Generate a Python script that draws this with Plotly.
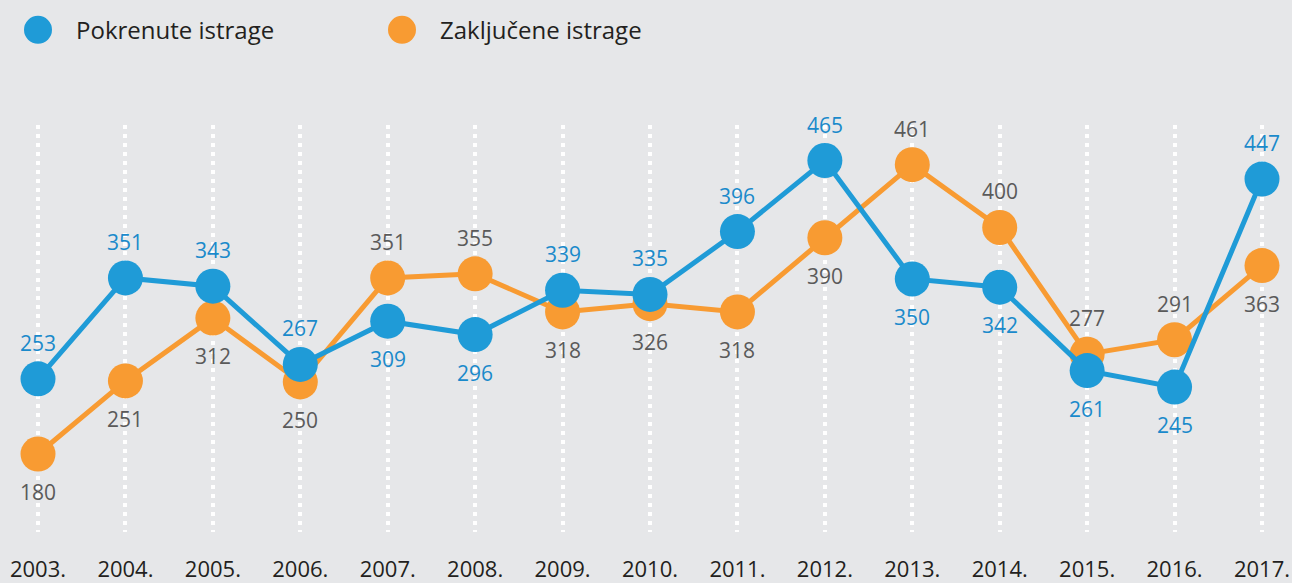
import plotly.graph_objects as go

years = [2003, 2004, 2005, 2006, 2007, 2008, 2009, 2010, 2011, 2012, 2013, 2014, 2015, 2016, 2017]
year_labels = [f"{y}." for y in years]
pokrenute = [253, 351, 343, 267, 309, 296, 339, 335, 396, 465, 350, 342, 261, 245, 447]
zakljucene = [180, 251, 312, 250, 351, 355, 318, 326, 318, 390, 461, 400, 277, 291, 363]
# label side for each point: 1 = above marker, -1 = below marker
pok_side = [1, 1, 1, 1, -1, -1, 1, 1, 1, 1, -1, -1, -1, -1, 1]
zak_side = [-1, -1, -1, -1, 1, 1, -1, -1, -1, -1, 1, 1, 1, 1, -1]

BLUE = "#1F9BD7"
BLUE_TXT = "#1A8ACB"
ORANGE = "#F89B32"
GREY_TXT = "#5A5A5A"
BG = "#E6E7E9"
FONT = "Open Sans"

W, H = 1292, 583
T, B = 125, 43

fig = go.Figure()
fig.add_trace(go.Scatter(
    x=years, y=zakljucene, name="Zaključene istrage", mode="lines+markers",
    line=dict(color=ORANGE, width=5), marker=dict(color=ORANGE, size=35),
    cliponaxis=False, showlegend=False, hoverinfo="x+y"))
fig.add_trace(go.Scatter(
    x=years, y=pokrenute, name="Pokrenute istrage", mode="lines+markers",
    line=dict(color=BLUE, width=5), marker=dict(color=BLUE, size=35),
    cliponaxis=False, showlegend=False, hoverinfo="x+y"))

# value labels
for series, sides, col in [(zakljucene, zak_side, GREY_TXT), (pokrenute, pok_side, BLUE_TXT)]:
    for x, v, s in zip(years, series, sides):
        fig.add_annotation(x=x, y=v, xref="x", yref="y", text=str(v), showarrow=False,
                           xanchor="center", yanchor="middle",
                           yshift=36 if s > 0 else -38,
                           font=dict(family=FONT, size=21, color=col))

# custom legend (pixel-sized circles + text)
def py(ypx):
    return (H - B - ypx) / (H - T - B)

legend_items = [("Pokrenute istrage", BLUE, 38, 74), ("Zaključene istrage", ORANGE, 402, 438)]
for label, col, cx, tx in legend_items:
    fig.add_shape(type="circle", xref="paper", yref="paper",
                  xsizemode="pixel", ysizemode="pixel",
                  xanchor=cx / W, yanchor=py(28),
                  x0=-14, x1=14, y0=-14, y1=14,
                  fillcolor=col, line=dict(width=0))
    fig.add_annotation(text=label, xref="paper", yref="paper",
                       x=tx / W, y=py(28), xanchor="left", yanchor="middle",
                       showarrow=False, font=dict(family=FONT, size=24, color="#231F20"))

xpx_2003, xpx_2017 = 38, 1262
step = (xpx_2017 - xpx_2003) / (years[-1] - years[0])
x0 = years[0] - xpx_2003 / step
x1 = years[-1] + (W - xpx_2017) / step

fig.update_layout(
    width=W, height=H,
    paper_bgcolor=BG, plot_bgcolor=BG,
    margin=dict(l=0, r=0, t=T, b=B, pad=0),
    font=dict(family=FONT),
    xaxis=dict(range=[x0, x1], tickvals=years, ticktext=year_labels,
               showgrid=True, gridcolor="white", gridwidth=4, griddash="4px,5px",
               zeroline=False, showline=False, ticks="", ticklabelstandoff=22,
               tickfont=dict(family=FONT, size=22, color="#231F20"), fixedrange=True),
    yaxis=dict(range=[104.3, 499.5], showgrid=False, zeroline=False,
               showticklabels=False, showline=False, fixedrange=True),
)

fig.write_html("out.html", config={"displayModeBar": False},
               post_script="document.body.style.margin='0';document.body.style.overflow='hidden';")
